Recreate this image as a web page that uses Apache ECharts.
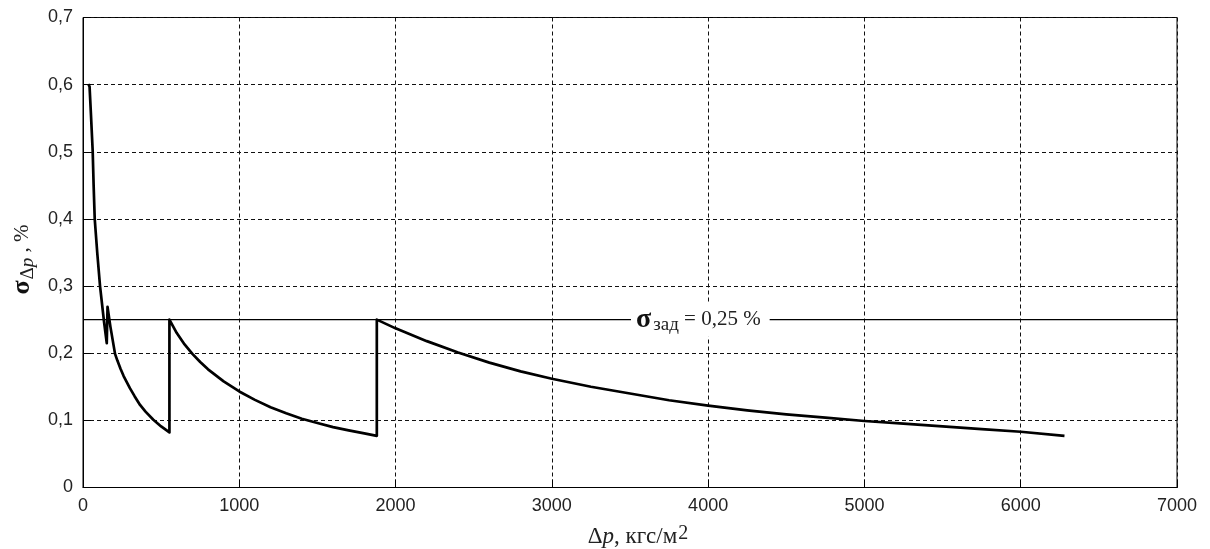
<!DOCTYPE html>
<html><head><meta charset="utf-8">
<script src="https://cdn.jsdelivr.net/npm/echarts@6/dist/echarts.min.js"></script>
<style>html,body{margin:0;padding:0;background:#fff}#c{width:1210px;height:549px}</style>
</head><body><div id="c"></div>
<script>
// Tick labels
const xTickLabels = ['0','1000','2000','3000','4000','5000','6000','7000'];
const yTickLabels = ['0','0,1','0,2','0,3','0,4','0,5','0,6','0,7'];

// Segment 1: [Δp, σ]
const seg1 = [
  [34,0.601],[42,0.597],[51,0.555],[62,0.501],[68,0.450],[75,0.400],[91,0.350],[109,0.300],
  [134,0.248],[152,0.215],[157,0.269],[175,0.240],[205,0.199],[220,0.189],[240,0.177],
  [260,0.166],[280,0.157],[300,0.148],[330,0.136],[365,0.123],[400,0.113],[450,0.101],
  [500,0.091],[553,0.082]
];
// Segment 2
const seg2 = [
  [553,0.250],[600,0.230],[650,0.213],[700,0.199],[750,0.187],[800,0.176],[900,0.158],
  [1000,0.143],[1100,0.1305],[1200,0.1195],[1300,0.1105],[1400,0.1025],[1500,0.096],
  [1600,0.090],[1700,0.085],[1800,0.0805],[1880,0.077]
];
// Segment 3
const seg3 = [
  [1880,0.250],[2000,0.237],[2200,0.218],[2400,0.201],[2600,0.186],[2800,0.173],
  [3000,0.162],[3250,0.150],[3500,0.140],[3750,0.130],[4000,0.122],[4250,0.115],
  [4500,0.109],[4750,0.104],[5000,0.099],[5250,0.095],[5500,0.091],[5750,0.087],
  [6000,0.083],[6280,0.077]
];
// Target level
const sigmaTarget = 0.25;
const xRange = [0, 7000];
const labelX = 3950;

const curve = seg1.concat(seg2, seg3);

const chart = echarts.init(document.getElementById('c'), null, {renderer:'canvas'});
const labelFont = 'Liberation Sans';
const serif = 'Liberation Serif';
chart.setOption({
  animation: false,
  backgroundColor: '#fff',
  grid: {left: 83, right: 33, top: 17.5, bottom: 61.5, outerBoundsMode: 'none', containLabel: false,
    show: true, borderColor: '#000', borderWidth: 1, backgroundColor: 'transparent'},
  xAxis: {
    type: 'value', min: xRange[0], max: xRange[1], interval: 1000,
    axisLine: {show: true, lineStyle: {color: '#000', width: 1}},
    axisTick: {show: true, inside: true, length: 8, lineStyle: {color: '#000'}},
    axisLabel: {margin: 10, color: '#222', fontFamily: labelFont, fontSize: 18,
      formatter: (v) => xTickLabels[Math.round(v/1000)]},
    splitLine: {show: true, lineStyle: {color: '#111', type: [4,3], width: 1}},
    name: '{d|Δ}{p|p}{t|, кгс/м}{sup|2}',
    nameLocation: 'middle', nameGap: 36,
    nameTextStyle: {
      color: '#222', fontFamily: serif, fontSize: 23, padding: [0,0,0,16],
      rich: {
        d: {fontFamily: serif, fontSize: 23, color: '#222'},
        p: {fontFamily: serif, fontSize: 23, fontStyle: 'italic', color: '#222'},
        t: {fontFamily: serif, fontSize: 23, color: '#222'},
        sup: {fontFamily: serif, fontSize: 20, color: '#222', padding: [0,0,6,1]}
      }
    }
  },
  yAxis: {
    type: 'value', min: 0, max: 0.7, interval: 0.1,
    axisLine: {show: true, lineStyle: {color: '#000', width: 1}},
    axisTick: {show: true, inside: true, length: 8, lineStyle: {color: '#000'}},
    axisLabel: {margin: 10, color: '#222', fontFamily: labelFont, fontSize: 18,
      formatter: (v) => yTickLabels[Math.round(v*10)]},
    splitLine: {show: true, lineStyle: {color: '#111', type: [4,3], width: 1}},
    name: '{s|σ}{d|Δ}{p|p}{t| , %}',
    nameLocation: 'middle', nameGap: 42,
    nameTextStyle: {
      color: '#222', padding: [0,14,0,0],
      rich: {
        s: {fontFamily: serif, fontSize: 26, fontWeight: 'bold', color: '#111'},
        d: {fontFamily: serif, fontSize: 19, color: '#222', padding: [10,0,0,1]},
        p: {fontFamily: serif, fontSize: 19, fontStyle: 'italic', color: '#222', padding: [10,0,0,0]},
        t: {fontFamily: serif, fontSize: 21, color: '#222'}
      }
    }
  },
  series: [
    {
      type: 'line', data: [[xRange[0], sigmaTarget],[xRange[1], sigmaTarget]],
      symbol: 'none', lineStyle: {color: '#000', width: 1.3}, silent: true, z: 3
    },
    {
      type: 'line', data: curve, symbol: 'none', smooth: false,
      lineStyle: {color: '#000', width: 2.7, join: 'round'}, z: 4
    },
    {
      type: 'scatter', data: [[labelX, sigmaTarget]], symbolSize: 0, z: 10,
      itemStyle: {opacity: 1},
      label: {
        show: true, position: 'inside', color: '#222', textBorderWidth: 0, opacity: 1,
        formatter: '{s|σ}{sub|зад}{t| = 0,25 %}',
        backgroundColor: '#fff', padding: [2,9,2,5],
        rich: {
          s: {fontFamily: serif, fontSize: 28, fontWeight: 'bold', color: '#111', textBorderWidth: 0},
          sub: {fontFamily: serif, fontSize: 19, color: '#222', padding: [11,0,0,2], textBorderWidth: 0},
          t: {fontFamily: serif, fontSize: 21, color: '#222', textBorderWidth: 0}
        }
      }
    }
  ]
});
</script>
</body></html>
